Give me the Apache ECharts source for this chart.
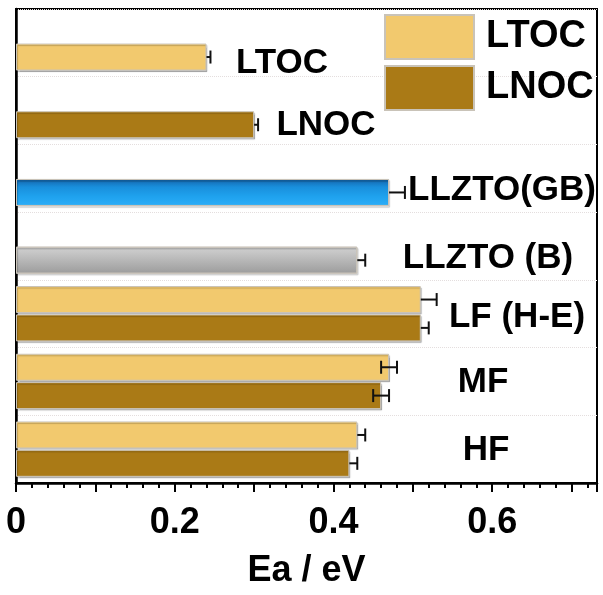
<!DOCTYPE html>
<html>
<head>
<meta charset="utf-8">
<script src="https://cdn.jsdelivr.net/npm/echarts@6/dist/echarts.min.js"></script>
<style>
  html, body { margin: 0; padding: 0; background: #fff; }
  #chart { width: 603px; height: 595px; }
</style>
</head>
<body>
<div id="chart"></div>
<script>
// Activation energies (eV) per sample group, top to bottom
const categories = ['LTOC', 'LNOC', 'LLZTO(GB)', 'LLZTO (B)', 'LF (H-E)', 'MF', 'HF'];

// upper bar of each group (LTOC cathode); only the paired groups have one
const upperEa = [null, null, null, null, 0.51, 0.47, 0.43];
const upperErrPlus = [0, 0, 0, 0, 0.02, 0.01, 0.01];
const upperErrMinus = [0, 0, 0, 0, 0, 0.01, 0];

// lower bar of each group (LNOC cathode, or the group's single bar)
const lowerEa = [0.24, 0.30, 0.47, 0.43, 0.51, 0.46, 0.42];
const lowerErrPlus = [0.005, 0.005, 0.02, 0.01, 0.01, 0.01, 0.01];
const lowerErrMinus = [0, 0, 0, 0, 0, 0.01, 0];
const lowerFill = ['ltoc', 'lnoc', 'gb', 'b', 'lnoc', 'lnoc', 'lnoc'];

const seriesNames = ['LTOC', 'LNOC'];
const xTickLabels = [0, 0.2, 0.4, 0.6];
const xTitle = 'Ea / eV';

// ---- styling ----
const FONT = '"Liberation Sans", Arial, sans-serif';
const BAR_W = 27;
const GAP_RATIO = 0.05;
const SLOT = (BAR_W * (1 + GAP_RATIO)) / 2;
const edge = { borderColor: '#c9c3b8', borderWidth: 1, shadowColor: 'rgba(0,0,0,0.22)', shadowOffsetX: 1, shadowOffsetY: 1.5, shadowBlur: 1 };
const fills = {
  ltoc: '#f2c96e',
  lnoc: '#aa7a16',
  gb: new echarts.graphic.LinearGradient(0, 0, 0, 1, [
    { offset: 0, color: '#1464ab' },
    { offset: 0.3, color: '#198fdc' },
    { offset: 0.65, color: '#1fa2ee' },
    { offset: 1, color: '#2cadf8' }
  ]),
  b: new echarts.graphic.LinearGradient(0, 0, 0, 1, [
    { offset: 0, color: '#d2d2d2' },
    { offset: 1, color: '#9c9c9c' }
  ])
};

// label placement inside the plot: centre x (px) and y shift from category centre (px)
const nameCenterX = [282, 326, 502, 488, 517, 483, 486];
const nameShiftY = [20, 15, 12, 12, 4, 1, 1];

const upperData = upperEa.map(v => (v == null ? '-' : v));
const lowerData = lowerEa.map((v, i) => ({
  value: v,
  itemStyle: Object.assign({ color: fills[lowerFill[i]] }, edge)
}));

const errData = [];
upperEa.forEach((v, i) => { if (v != null) errData.push([v, i, upperErrPlus[i], upperErrMinus[i], -1]); });
lowerEa.forEach((v, i) => { errData.push([v, i, lowerErrPlus[i], lowerErrMinus[i], 1]); });

const chart = echarts.init(document.getElementById('chart'), null, { renderer: 'canvas' });

const option = {
  animation: false,
  backgroundColor: '#fff',
  grid: { left: 16, right: 6, top: 9, bottom: 112, show: true, borderColor: '#000', borderWidth: 2, backgroundColor: 'transparent' },
  legend: {
    data: seriesNames,
    orient: 'vertical',
    left: 384, top: 14,
    padding: 0,
    itemWidth: 89, itemHeight: 44, itemGap: 5,
    icon: 'rect',
    selectedMode: false,
    textStyle: { fontFamily: FONT, fontSize: 38, fontWeight: 'bold', color: '#000', padding: [0, 0, 0, 7] }
  },
  xAxis: {
    type: 'value',
    min: 0, max: 0.732, interval: 0.1,
    name: xTitle,
    nameLocation: 'middle',
    nameGap: 70,
    nameTextStyle: { fontFamily: FONT, fontSize: 36, fontWeight: 'bold', color: '#000' },
    axisLine: { show: true, lineStyle: { color: '#000', width: 2.5 } },
    axisTick: { show: true, inside: false, length: 9, lineStyle: { color: '#000', width: 2 } },
    minorTick: { show: true, splitNumber: 5, length: 5, lineStyle: { color: '#000', width: 2 } },
    splitLine: { show: false },
    axisLabel: {
      margin: 22,
      fontFamily: FONT, fontSize: 36, fontWeight: 'bold', color: '#000',
      formatter: v => {
        const t = xTickLabels.find(t => Math.abs(t - v) < 1e-6);
        return t === undefined ? '' : String(t);
      }
    }
  },
  yAxis: {
    type: 'category',
    data: categories,
    inverse: true,
    axisLine: { show: true, lineStyle: { color: '#000', width: 2.5 } },
    axisTick: { show: false },
    axisLabel: { show: false },
    splitLine: { show: true, lineStyle: { color: '#e4dede', type: 'dotted', width: 1 } }
  },
  series: [
    {
      name: seriesNames[0], type: 'bar', data: upperData,
      barWidth: BAR_W, barGap: (GAP_RATIO * 100) + '%',
      itemStyle: Object.assign({ color: fills.ltoc }, edge), z: 2
    },
    {
      name: seriesNames[1], type: 'bar', data: lowerData,
      barWidth: BAR_W, barGap: (GAP_RATIO * 100) + '%',
      itemStyle: Object.assign({ color: fills.lnoc }, edge), z: 2
    },
    {
      name: 'error', type: 'custom', z: 5,
      encode: { x: 0, y: 1 },
      data: errData,
      renderItem: (params, api) => {
        const v = api.value(0), idx = api.value(1), plus = api.value(2), minus = api.value(3), slot = api.value(4);
        const c = api.coord([v, idx]);
        const y = c[1] + slot * SLOT;
        const xR = api.coord([v + plus, idx])[0];
        const xL = api.coord([v - minus, idx])[0];
        const st = { stroke: '#111', lineWidth: 2 };
        const cap = 6.5;
        const kids = [
          { type: 'line', shape: { x1: xL, y1: y, x2: xR, y2: y }, style: st },
          { type: 'line', shape: { x1: xR, y1: y - cap, x2: xR, y2: y + cap }, style: st }
        ];
        if (minus > 0) kids.push({ type: 'line', shape: { x1: xL, y1: y - cap, x2: xL, y2: y + cap }, style: st });
        return { type: 'group', children: kids };
      }
    }
  ]
};

chart.setOption(option);

// group names written inside the plot, next to their bars
const names = categories.map((name, i) => {
  const y = chart.convertToPixel({ yAxisIndex: 0 }, name);
  return {
    type: 'text',
    x: nameCenterX[i], y: y + nameShiftY[i],
    z: 10,
    style: {
      text: name, fill: '#000',
      font: 'bold 35px ' + FONT,
      textAlign: 'center', textVerticalAlign: 'middle'
    }
  };
});
chart.setOption({ graphic: names });
</script>
</body>
</html>
